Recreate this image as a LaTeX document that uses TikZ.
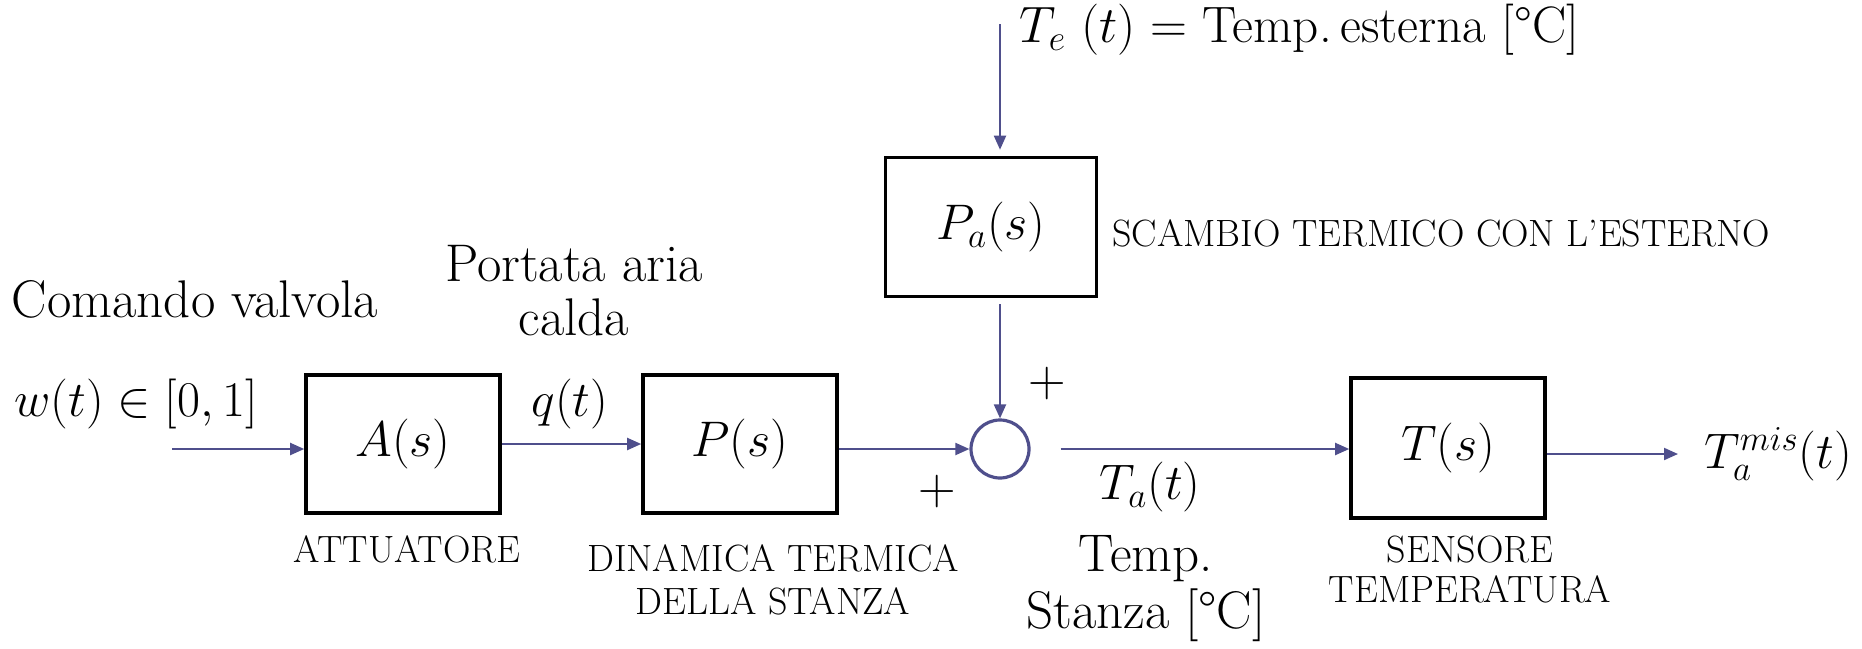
\documentclass[tikz,border=0pt]{standalone}
\usepackage{fix-cm}
\usetikzlibrary{arrows.meta}
\definecolor{sigc}{RGB}{79,79,140}
\begin{document}
\begin{tikzpicture}[x=0.5pt,y=-0.5pt,
 blk/.style={draw=black,line width=1.8pt,minimum width=97pt,minimum height=69pt,inner sep=0pt,font=\fontsize{25}{30}\selectfont},
 sumnode/.style={draw=sigc,line width=1.6pt,circle,minimum size=29pt,inner sep=0pt},
 sig/.style={draw=sigc,line width=1pt,-{Triangle[length=7pt,width=6pt]}},
 big/.style={font=\fontsize{26.5}{27}\selectfont,align=center,inner sep=0pt},
 captxt/.style={font=\fontsize{19}{21.5}\selectfont,align=center,inner sep=0pt},
 mth/.style={font=\fontsize{25}{30}\selectfont,inner sep=0pt},
 pls/.style={font=\fontsize{26}{30}\selectfont,inner sep=0pt}]
\useasboundingbox (0,0) rectangle (1862,648);
% blocks
\node[blk] (A) at (403,444) {$A(s)$};
\node[blk] (P) at (740,444) {$P(s)$};
\node[blk,minimum width=105.5pt,minimum height=69.5pt] (Pa) at (991,227) {$P_a(s)$};
\node[blk,minimum height=70pt] (T) at (1448,448) {$T(s)$};
\node[sumnode] (S) at (1000,449) {};
% connectors
\coordinate (in) at (172,449);
\coordinate (te) at (1000,24);
\coordinate (out) at (1678,454);
\draw[sig] (in) -- (in -| A.west);
\draw[sig] (A.east) -- (P.west);
\draw[sig] (P.east |- S) -- (S.west);
\draw[sig,shorten >=3pt] (te) -- (te |- Pa.north);
\draw[sig,shorten <=3pt] (te |- Pa.south) -- (S.north);
\draw[sig,shorten <=15pt] (S.east) -- (S.east -| T.west);
\draw[sig] (T.east |- out) -- (out);
% labels
\node[big] (cv) at (195,299) {Comando valvola};
\node[mth,anchor=west] (w) at (14,404) {$w(t)\in[0,1]$};
\node[big] (pac) at (574,291) {Portata aria\\calda};
\node[mth] (q) at (570,404) {$q(t)$};
\node[captxt] (att) at (407,549) {ATTUATORE};
\node[captxt] (din) at (773,580) {DINAMICA TERMICA\\DELLA STANZA};
\node[big,anchor=west,font=\fontsize{25.6}{27}\selectfont] (tel) at (1019,30) {$T_e\ (t) =$ Temp.\,esterna [°C]};
\node[captxt,anchor=west] (sc) at (1112,233) {SCAMBIO TERMICO CON L’ESTERNO};
\node[pls] (p1) at (937,492) {+};
\node[pls] (p2) at (1047,384) {+};
\node[mth] (ta) at (1150,487) {$T_a(t)$};
\node[big,font=\fontsize{26.5}{28.5}\selectfont] (ts) at (1146,589) {Temp.\\Stanza [°C]};
\node[captxt,font=\fontsize{19}{20}\selectfont] (sens) at (1470,570) {SENSORE\\TEMPERATURA};
\node[mth,anchor=west] (tm) at (1704,454) {$T_a^{mis}(t)$};
\end{tikzpicture}
\end{document}
